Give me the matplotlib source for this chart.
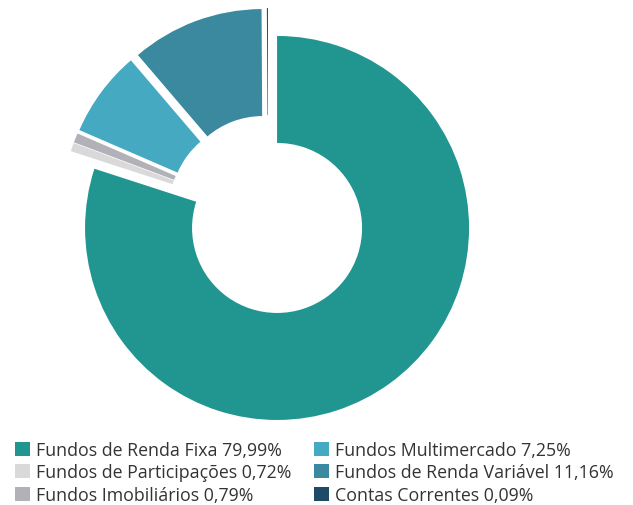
import matplotlib
matplotlib.use("Agg")
import matplotlib.pyplot as plt

categories = ["Fundos de Renda Fixa", "Fundos de Participações", "Fundos Imobiliários",
              "Fundos Multimercado", "Fundos de Renda Variável", "Contas Correntes"]
values = [79.99, 0.72, 0.79, 7.25, 11.16, 0.09]
labels = ["79,99%", "0,72%", "0,79%", "7,25%", "11,16%", "0,09%"]
colors = ["#219690", "#d9d9d9", "#b1b1b7", "#45a9c1", "#3a899f", "#1f4a67"]

plt.rcParams['font.family'] = ['Open Sans', 'DejaVu Sans']

W, H = 633, 506
fig = plt.figure(figsize=(W / 100, H / 100), dpi=100)
ax = fig.add_axes([0, 0, 1, 1])

R = 192
wedges, _ = ax.pie(values, colors=colors, startangle=90, counterclock=False,
                   center=(268, H - 216.5), radius=R,
                   explode=[15.4] * len(values),
                   wedgeprops=dict(width=R - 85, linewidth=0))
ax.set_xlim(0, W)
ax.set_ylim(0, H)
ax.set_aspect("equal")
ax.axis("off")

leg_labels = [f"{c} {l}" for c, l in zip(categories, labels)]
leg = ax.legend(wedges, leg_labels, ncol=2, loc="upper left",
                bbox_to_anchor=(15 / W, 1 - 442 / H), bbox_transform=fig.transFigure,
                frameon=False, fontsize=12.8, handlelength=0.85, handleheight=0.85,
                handletextpad=0.35, columnspacing=1.25, labelspacing=0.25,
                borderpad=0, borderaxespad=0)
for t in leg.get_texts():
    t.set_color("#333333")
for h in leg.legend_handles:
    h.set_linewidth(0)

fig.savefig("out.png", dpi=100)
